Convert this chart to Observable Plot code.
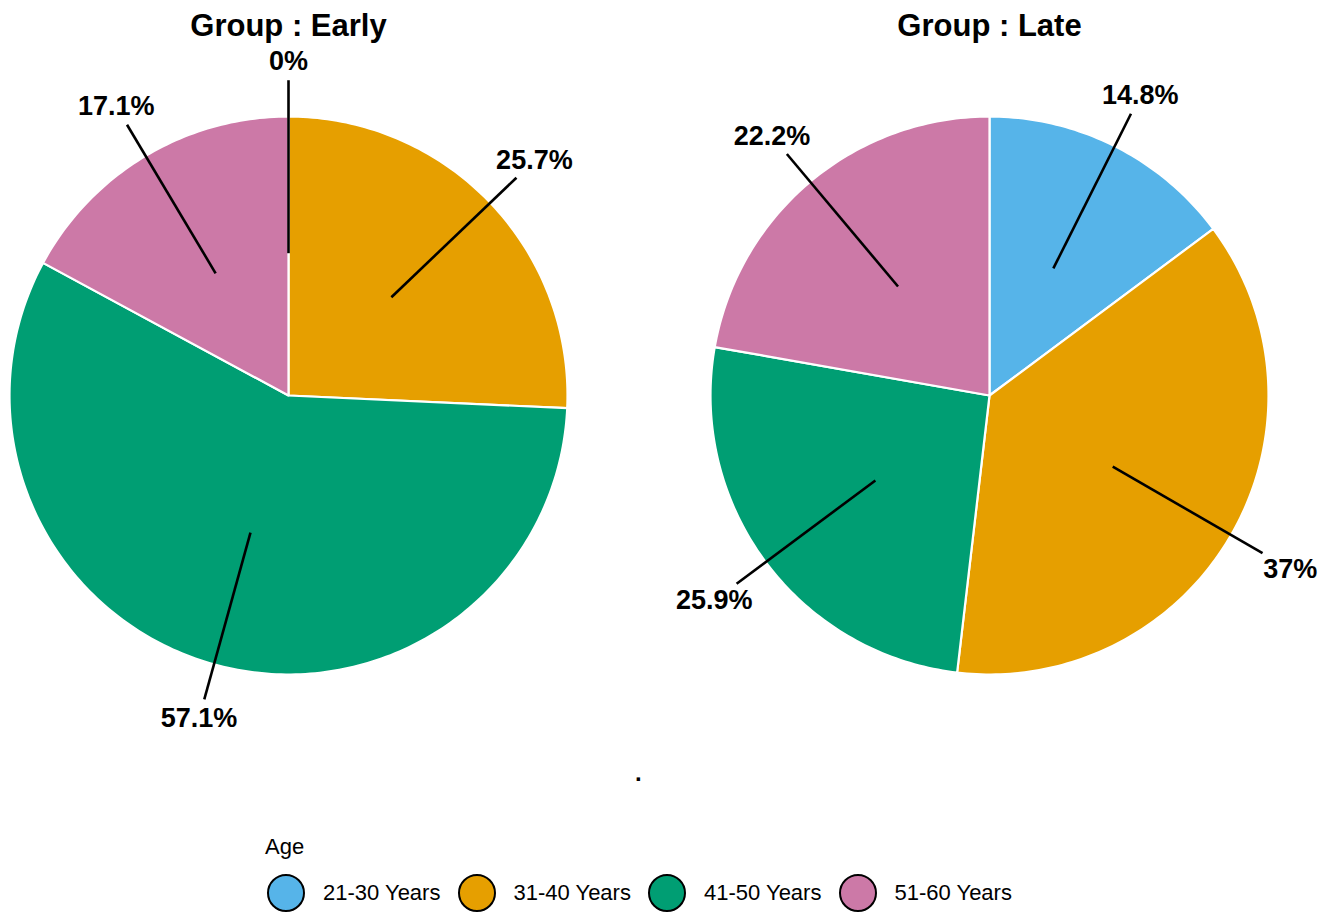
<!DOCTYPE html>
<html>
<head>
<meta charset="utf-8">
<script src="https://cdn.jsdelivr.net/npm/d3@7"></script>
<script src="https://cdn.jsdelivr.net/npm/@observablehq/plot@0.6"></script>
<style>
  html, body { margin: 0; padding: 0; background: #fff; }
  body { font-family: "Liberation Sans", Arial, Helvetica, sans-serif; }
  #wrap { position: relative; width: 1325px; height: 913px; overflow: hidden; }
  #chart { position: absolute; left: 0; top: 0; }
  .abs { position: absolute; white-space: nowrap; }
  #dot { font-size: 24px; font-weight: bold; line-height: 24px; color: #000; }
  #legend-title { font-size: 22px; line-height: 22px; color: #000; }
  .sw { box-sizing: border-box; width: 38px; height: 38px; border: 2px solid #000; border-radius: 50%; }
  .lt { font-size: 22px; line-height: 22px; color: #000; }
</style>
</head>
<body>
<div id="wrap">
  <div id="chart"></div>
</div>
<script>
// ---- data ----
const groups = ["Early", "Late"];
const ages = ["21-30 Years", "31-40 Years", "41-50 Years", "51-60 Years"];
const earlyPct = [0, 25.7, 57.1, 17.1];
const latePct = [14.8, 37, 25.9, 22.2];
const ageColors = ["#56B4E9", "#E69F00", "#009E73", "#CC79A7"];
const legendTitle = "Age";
const titlePrefix = "Group : ";
const strayMark = ".";

// ---- layout ----
const W = 1325, H = 760;
const R = 279;                 // pixel radius of each pie
const cy = 395;                // pixel y of pie centres
const series = { Early: earlyPct, Late: latePct };
const labelFont = 27;

// measure label widths for placement
const ctx = document.createElement("canvas").getContext("2d");
ctx.font = `bold ${labelFont}px "Liberation Sans", Arial, sans-serif`;

// ---- build slice polygons and label anchors ----
const polys = [];
const slices = [];
for (const g of groups) {
  const vals = series[g];
  const total = d3.sum(vals);
  let acc = 0;
  vals.forEach((v, i) => {
    const a0 = acc / total * 2 * Math.PI;
    acc += v;
    const a1 = acc / total * 2 * Math.PI;
    const key = g + "|" + i;
    polys.push({ group: g, age: ages[i], key, x: 0, y: 0 });
    const n = Math.max(1, Math.ceil((a1 - a0) / (Math.PI / 180)));
    for (let k = 0; k <= n; k++) {
      const a = a0 + (a1 - a0) * k / n;
      polys.push({ group: g, age: ages[i], key, x: Math.sin(a), y: Math.cos(a) });
    }
    const am = (a0 + a1) / 2;
    const ux = Math.sin(am), uy = Math.cos(am);
    const label = v + "%";
    const hw = ctx.measureText(label).width / 2 + 5, hh = 13;
    const edge = Math.min(Math.abs(ux) > 1e-6 ? hw / Math.abs(ux) : 1e9,
                          Math.abs(uy) > 1e-6 ? hh / Math.abs(uy) : 1e9);
    const rOut = 1.13;
    const rLab = rOut + (edge + 6) / R;
    slices.push({
      group: g, age: ages[i], label,
      x1: 0.51 * ux, y1: 0.51 * uy,
      x2: rOut * ux, y2: rOut * uy,
      lx: rLab * ux, ly: rLab * uy
    });
  });
}

const chart = Plot.plot({
  width: W,
  height: H,
  marginLeft: 9,
  marginRight: W - 1268,
  marginTop: cy - R,
  marginBottom: H - (cy + R),
  style: { fontFamily: '"Liberation Sans", Arial, Helvetica, sans-serif', background: "white", overflow: "visible" },
  x: { domain: [-1, 1], axis: null },
  y: { domain: [-1, 1], axis: null },
  fx: { domain: groups, paddingInner: 143 / 701, paddingOuter: 0, axis: null, label: null },
  color: { domain: ages, range: ageColors },
  marks: [
    Plot.line(polys, {
      x: "x", y: "y", z: "key", fx: "group",
      fill: "age", stroke: "white", strokeWidth: 2.2,
      strokeLinejoin: "round", curve: "linear-closed"
    }),
    Plot.link(slices, {
      fx: "group", x1: "x1", y1: "y1", x2: "x2", y2: "y2",
      stroke: "black", strokeWidth: 2.6
    }),
    Plot.text(slices, {
      fx: "group", x: "lx", y: "ly", text: "label",
      fontSize: labelFont, fontWeight: "bold", fill: "black"
    }),
    Plot.text(groups.map(g => ({ group: g })), {
      fx: "group", frameAnchor: "top", lineAnchor: "middle", dy: 26 - (cy - R),
      text: d => titlePrefix + d.group,
      fontSize: 31, fontWeight: "bold", fill: "black"
    })
  ]
});
document.getElementById("chart").appendChild(chart);

// ---- stray dot and legend (HTML below the SVG) ----
const wrap = document.getElementById("wrap");
const dot = document.createElement("div");
dot.className = "abs"; dot.id = "dot";
dot.textContent = strayMark;
dot.style.left = "635px"; dot.style.top = "761px";
wrap.appendChild(dot);

const lt = document.createElement("div");
lt.className = "abs"; lt.id = "legend-title";
lt.textContent = legendTitle;
lt.style.left = "265px"; lt.style.top = "836px";
wrap.appendChild(lt);

ages.forEach((a, i) => {
  const left = 267 + 190.5 * i;
  const sw = document.createElement("div");
  sw.className = "abs sw";
  sw.style.left = left + "px"; sw.style.top = "874px";
  sw.style.background = ageColors[i];
  wrap.appendChild(sw);
  const t = document.createElement("div");
  t.className = "abs lt";
  t.textContent = a;
  t.style.left = (left + 56) + "px"; t.style.top = "882px";
  wrap.appendChild(t);
});
</script>
</body>
</html>
